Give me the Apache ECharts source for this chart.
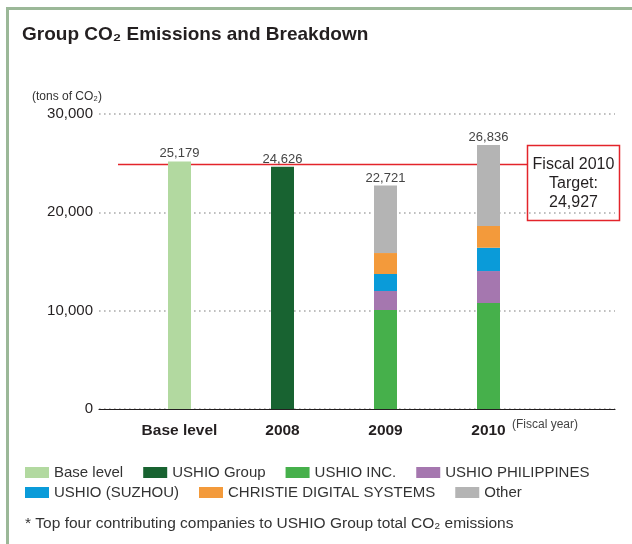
<!DOCTYPE html>
<html><head><meta charset="utf-8">
<script src="https://cdn.jsdelivr.net/npm/echarts@6/dist/echarts.min.js"></script>
<style>html,body{margin:0;padding:0;background:#fff}#c{width:632px;height:544px}</style>
</head><body><div id="c"></div>
<script>
const categories = ['Base level', '2008', '2009', '2010'];
const totals = [25179, 24626, 22721, 26836];
const baseLevel = [25179, null, null, null];
const ushioGroup = [null, 24626, null, null];
const ushioInc = [null, null, 10070, 10780];
const ushioPhilippines = [null, null, 1930, 3250];
const ushioSuzhou = [null, null, 1730, 2370];
const christie = [null, null, 2130, 2210];
const other = [null, null, 6861, 8226];
const target = 24927;
const targetLabel = 'Fiscal 2010\nTarget:\n24,927';
const legendRow1 = ['Base level', 'USHIO Group', 'USHIO INC.', 'USHIO PHILIPPINES'];
const legendRow2 = ['USHIO (SUZHOU)', 'CHRISTIE DIGITAL SYSTEMS', 'Other'];

const FONT = '"Liberation Sans", Arial, Helvetica, sans-serif';
const TXT = '#231f20';
const chart = echarts.init(document.getElementById('c'), null, {renderer: 'canvas'});

const fmt = v => v.toLocaleString('en-US');
const totalLabel = {
  show: true, position: 'top', distance: 1, lineHeight: 13,
  fontFamily: FONT, fontSize: 13, color: '#444',
  formatter: p => fmt(totals[p.dataIndex])
};

function barSeries(name, data, color, label) {
  return {
    name, type: 'bar', data, stack: 'total', barWidth: 23,
    xAxisIndex: 1, yAxisIndex: 1,
    itemStyle: {color},
    label: label ? totalLabel : {show: false},
    emphasis: {disabled: true}
  };
}

const legendCommon = {
  icon: 'rect', itemWidth: 24, itemHeight: 11, left: 25, padding: 0,
  textStyle: {fontFamily: FONT, fontSize: 15, color: '#333'},
  selectedMode: false
};

const option = {
  animation: false,
  textStyle: {fontFamily: FONT},
  title: {
    text: 'Group CO₂ Emissions and Breakdown',
    left: 17, top: 20,
    textStyle: {fontFamily: FONT, fontSize: 19, fontWeight: 'bold', color: TXT}
  },
  legend: [
    Object.assign({}, legendCommon, {data: legendRow1, top: 465, itemGap: 20}),
    Object.assign({}, legendCommon, {data: legendRow2, top: 485, itemGap: 20})
  ],
  grid: [
    {left: 99, right: 17, top: 114, bottom: 135},
    {left: 128, width: 412, top: 114, bottom: 135}
  ],
  xAxis: [
    {type: 'value', gridIndex: 0, min: 0, max: 1,
     axisLine: {show: true, lineStyle: {color: TXT, width: 1.2}},
     axisTick: {show: false}, axisLabel: {show: false}, splitLine: {show: false}},
    {type: 'category', gridIndex: 1, data: categories,
     axisLine: {show: false}, axisTick: {show: false},
     axisLabel: {fontFamily: FONT, fontSize: 15.5, fontWeight: 'bold', color: TXT, margin: 14}}
  ],
  yAxis: [
    {type: 'value', gridIndex: 0, min: 0, max: 30000, interval: 10000,
     axisLine: {show: false}, axisTick: {show: false},
     axisLabel: {fontFamily: FONT, fontSize: 15, color: TXT, margin: 6, formatter: v => fmt(v)},
     splitLine: {show: true, lineStyle: {color: '#aaaaaa', width: 1.6, type: [1.6, 3.4]}}},
    {type: 'value', gridIndex: 1, min: 0, max: 30000, show: false}
  ],
  series: [
    barSeries('Base level', baseLevel, '#b2d9a0', true),
    barSeries('USHIO Group', ushioGroup, '#186331', true),
    barSeries('USHIO INC.', ushioInc, '#46b04b', false),
    barSeries('USHIO PHILIPPINES', ushioPhilippines, '#a577af', false),
    barSeries('USHIO (SUZHOU)', ushioSuzhou, '#0a9bd9', false),
    barSeries('CHRISTIE DIGITAL SYSTEMS', christie, '#f39a3b', false),
    barSeries('Other', other, '#b4b4b4', true)
  ],
  graphic: [
    {id: 'border', type: 'polyline', silent: true,
     shape: {points: [[7.5, 544], [7.5, 8.5], [632, 8.5]]},
     style: {stroke: '#9bb898', lineWidth: 3, fill: null}},
    {id: 'unit', type: 'text', left: 32, top: 91,
     style: {text: '(tons of CO₂)', font: '12px ' + FONT, fill: '#333'}},
    {id: 'fy', type: 'text', left: 512, top: 419,
     style: {text: '(Fiscal year)', font: '12px ' + FONT, fill: '#444'}},
    {id: 'note', type: 'text', left: 25, top: 516,
     style: {text: '* Top four contributing companies to USHIO Group total CO₂ emissions', font: '15.5px ' + FONT, fill: '#333'}}
  ]
};
chart.setOption(option);

const ly = Math.round(chart.convertToPixel({yAxisIndex: 0}, target)) + 0.5;
chart.setOption({
  graphic: [
    {id: 'tline', type: 'line', silent: true,
     shape: {x1: 118, y1: ly, x2: 528, y2: ly},
     style: {stroke: '#e3242b', lineWidth: 1.5}},
    {id: 'tbox', type: 'rect', silent: true,
     shape: {x: 527.5, y: ly - 19, width: 92, height: 75},
     style: {fill: '#fff', stroke: '#e3242b', lineWidth: 1.5}},
    {id: 'ttext', type: 'text', silent: true, x: 573.5, y: ly + 19,
     style: {text: targetLabel, font: '16px ' + FONT, fill: TXT, align: 'center', verticalAlign: 'middle', lineHeight: 19}}
  ]
});
</script></body></html>
